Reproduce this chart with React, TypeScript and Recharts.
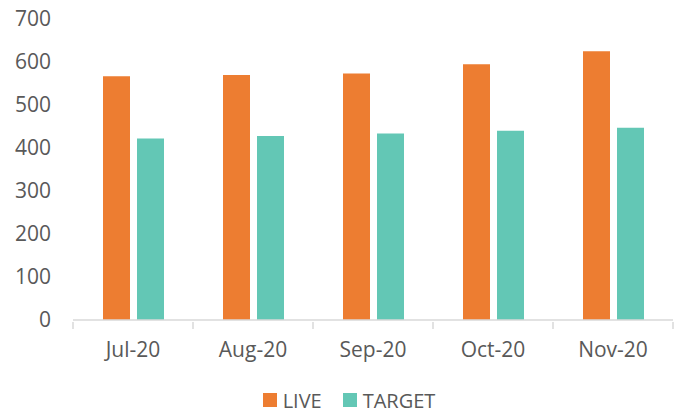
import { Bar, BarChart, XAxis, YAxis, Legend } from "recharts";

const months = ["Jul-20", "Aug-20", "Sep-20", "Oct-20", "Nov-20"];
const live = [567, 570, 573, 595, 625];
const target = [422, 428, 434, 440, 447];
const yTicks = [0, 100, 200, 300, 400, 500, 600, 700];

const data = months.map((m, i) => ({ month: m, LIVE: live[i], TARGET: target[i] }));

const FONT = "'Open Sans', sans-serif";
const TEXT = "#595959";
const AXIS = "#d9d9d9";

// category label plus the boundary tick marks (Excel style, between categories)
const MonthTick = (props: any) => {
  const { x, y, payload, index, width, visibleTicksCount } = props;
  const band = width / visibleTicksCount;
  const left = x - band / 2;
  return (
    <g>
      <line x1={left} y1={y} x2={left} y2={y + 7} stroke={AXIS} strokeWidth={1.5} />
      {index === visibleTicksCount - 1 && (
        <line x1={x + band / 2} y1={y} x2={x + band / 2} y2={y + 7} stroke={AXIS} strokeWidth={1.5} />
      )}
      <text x={x} y={y + 35} textAnchor="middle" fill={TEXT} fontSize={21} fontFamily={FONT}>
        {payload.value}
      </text>
    </g>
  );
};

const LegendContent = (props: any) => {
  const { payload } = props;
  return (
    <div style={{ display: "flex", justifyContent: "center", paddingLeft: 46, height: 30, alignItems: "center", fontFamily: FONT, fontSize: 20, color: TEXT }}>
      {payload.map((p: any) => (
        <div key={p.value} style={{ display: "flex", alignItems: "center", marginRight: 21 }}>
          <span style={{ display: "inline-block", width: 14, height: 14, background: p.color, marginRight: 6 }} />
          <span>{p.value}</span>
        </div>
      ))}
    </div>
  );
};

export default function App() {
  return (
    <div style={{ position: "absolute", left: 0, top: 0, background: "#fff" }}>
      <BarChart
        width={680}
        height={415}
        data={data}
        margin={{ top: 19, right: 7, left: 0, bottom: 0 }}
        barSize={27}
        barGap={7}
      >
        <XAxis
          dataKey="month"
          axisLine={{ stroke: AXIS, strokeWidth: 1.5 }}
          tickLine={false}
          tickSize={0}
          height={65}
          interval={0}
          tick={<MonthTick />}
        />
        <YAxis
          domain={[0, 700]}
          ticks={yTicks}
          axisLine={false}
          tickLine={false}
          tickSize={0}
          tickMargin={22}
          width={73}
          tick={{ fontSize: 21, fill: TEXT, fontFamily: FONT }}
        />
        <Legend verticalAlign="bottom" height={30} content={<LegendContent />} />
        <Bar dataKey="LIVE" fill="#ED7D31" isAnimationActive={false} />
        <Bar dataKey="TARGET" fill="#63C7B5" isAnimationActive={false} />
      </BarChart>
    </div>
  );
}
